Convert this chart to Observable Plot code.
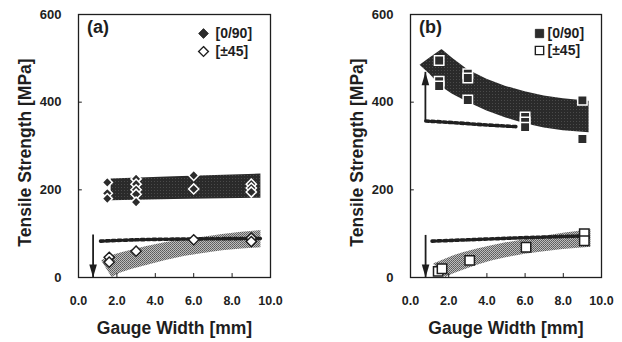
<!DOCTYPE html>
<html>
<head>
<meta charset="utf-8">
<script src="https://cdn.jsdelivr.net/npm/d3@7"></script>
<script src="https://cdn.jsdelivr.net/npm/@observablehq/plot@0.6"></script>
<style>
  body { margin: 0; background: white; }
  #wrap { display: flex; width: 622px; height: 342px; }
</style>
</head>
<body>
<div id="wrap"></div>
<script>
// ---------- shared ----------
const xTicks = [0, 2, 4, 6, 8, 10];
const yTicks = [0, 200, 400, 600];
const seriesNames = ["[0/90]", "[±45]"];
const xTitle = "Gauge Width [mm]";
const yTitle = "Tensile Strength [MPa]";

// ---------- panel (a) ----------
const a090X = [1.5, 1.5, 1.5, 3, 3, 3, 3, 3, 6, 6, 9, 9, 9];
const a090Y = [217, 192, 180, 225, 213, 200, 190, 172, 233, 202, 213, 204, 195];
const a45X = [1.6, 1.6, 3, 6, 9, 9];
const a45Y = [46, 35, 60, 86, 90, 82];
const aDarkX = [1.7, 5, 9.5];
const aDarkLo = [175, 178, 181];
const aDarkHi = [225, 230, 236];
const aLightX = [1.2, 1.75, 2.2, 2.8, 3.5, 4.5, 5.5, 6.5, 7.5, 8.5, 9.5];
const aLightLo = [38, 0, 10, 19, 27, 38, 48, 55, 61, 65, 68];
const aLightHi = [38, 50, 56, 63, 70, 79, 86, 92, 98, 103, 107];
const aDotX = [1.15, 3, 6, 9.5];
const aDotY = [83, 86, 88, 89];
const aArrowX = [0.76];
const aArrowFrom = [97];
const aArrowTo = [0];

// ---------- panel (b) ----------
const b090X = [1.5, 1.5, 1.5, 3, 3, 3, 6, 6, 6, 9, 9];
const b090Y = [495, 448, 437, 465, 455, 405, 366, 355, 343, 404, 316];
const b45X = [1.45, 1.65, 3.1, 6.05, 9.1, 9.1];
const b45Y = [14, 20, 39, 69, 100, 84];
const bDarkX = [0.5, 1.0, 1.65, 2.2, 3.0, 4.0, 5.0, 6.0, 7.0, 8.0, 9.35];
const bDarkLo = [484, 464, 434, 418, 400, 380, 364, 351, 341, 335, 330];
const bDarkHi = [484, 500, 520, 500, 474, 452, 436, 424, 414, 408, 402];
const bLightX = [1.2, 1.85, 2.3, 2.8, 3.5, 4.2, 5.0, 6.0, 7.0, 8.0, 9.45];
const bLightLo = [31, 0, 9, 17, 28, 37, 45, 53, 59, 64, 69];
const bLightHi = [31, 42, 50, 57, 65, 72, 79, 86, 94, 101, 109];
const bDotLowX = [1.13, 3, 5.4, 9.25];
const bDotLowY = [83, 86, 90, 95];
const bDotHighX = [0.8, 2, 4, 5.6];
const bDotHighY = [357, 354, 348, 344];
const bArrowX = [0.79, 0.78];
const bArrowFrom = [96, 357];
const bArrowTo = [0, 468];

// ---------- helpers ----------
const pts = (xs, ys) => xs.map((x, i) => ({x, y: ys[i]}));
const band = (xs, lo, hi) => xs.map((x, i) => ({x, lo: lo[i], hi: hi[i]}));
const arrows = (xs, from, to) => xs.map((x, i) => ({x, from: from[i], to: to[i]}));

const headDown = {draw(c) { c.moveTo(0, 0); c.lineTo(-3.8, -13); c.lineTo(3.8, -13); c.closePath(); }};
const headUp = {draw(c) { c.moveTo(0, 0); c.lineTo(-3.8, 13); c.lineTo(3.8, 13); c.closePath(); }};

const FONT = "'Liberation Sans', Arial, Helvetica, sans-serif";
const INK = "#1e1e1e";

function panel(opts) {
  const {id, label, mLeft, mRight, filled, open, dark, light, dotted, arr, sym, r, legendSymDx, legendTextDx, legendR, legendDy} = opts;
  const marks = [
    Plot.areaY(dark, {x: "x", y1: "lo", y2: "hi", fill: `url(#dark-${id})`, curve: "linear"}),
    Plot.areaY(light, {x: "x", y1: "lo", y2: "hi", fill: `url(#light-${id})`, curve: "linear"}),
    ...dotted.map(d => Plot.line(d, {x: "x", y: "y", stroke: "#202020", strokeWidth: 3.6, strokeDasharray: "3.2,2.6", curve: "monotone-x"})),
    Plot.ruleX(arr, {x: "x", y1: "from", y2: "to", stroke: INK, strokeWidth: 1.8}),
    Plot.dot(arr, {x: "x", y: "to", symbol: d => d.to < d.from ? "down" : "up", fill: INK, stroke: "none"}),
    Plot.dot(filled, {x: "x", y: "y", symbol: sym, r, fill: "#2c2c2c", stroke: "white", strokeWidth: 1.5}),
    Plot.dot(open, {x: "x", y: "y", symbol: sym, r, fill: "white", stroke: INK, strokeWidth: 1.5}),
    Plot.frame({stroke: INK, strokeWidth: 1.3}),
    Plot.ruleX(xTicks.slice(1, -1), {x: d => d, y1: 0, y2: 9, stroke: INK, strokeWidth: 1}),
    Plot.ruleY(yTicks.slice(1, -1), {y: d => d, x1: 0, x2: 0.2, stroke: INK, strokeWidth: 1}),
    Plot.axisX({ticks: xTicks, tickFormat: d3.format(".1f"), tickSize: 0, tickPadding: 19, fontSize: 12.5, label: null}),
    Plot.axisY({ticks: yTicks, tickFormat: d => String(d), tickSize: 0, tickPadding: 17, fontSize: 13, label: null}),
    Plot.text([xTitle], {frameAnchor: "bottom", dy: 51, lineAnchor: "middle", textAnchor: "middle", fontSize: 17.5, text: d => d}),
    Plot.text([yTitle], {frameAnchor: "left", dx: -53, dy: 6.5, rotate: -90, lineAnchor: "middle", textAnchor: "middle", fontSize: 17.5, text: d => d}),
    Plot.text([label], {frameAnchor: "top-left", dx: 8.5, dy: 13, lineAnchor: "middle", textAnchor: "start", fontSize: 18, text: d => d}),
    ...seriesNames.flatMap((name, i) => [
      Plot.dot([name], {frameAnchor: "top-right", dx: legendSymDx, dy: legendDy[i], symbol: sym, r: legendR,
        fill: i === 0 ? "#2c2c2c" : "white", stroke: INK, strokeWidth: i === 0 ? 0.8 : 1.4}),
      Plot.text([name], {frameAnchor: "top-right", dx: legendTextDx, dy: legendDy[i], textAnchor: "start", lineAnchor: "middle", fontSize: 14, text: d => d})
    ])
  ];
  const svg = Plot.plot({
    width: 311, height: 342,
    marginLeft: mLeft, marginRight: mRight, marginTop: 14, marginBottom: 65,
    x: {domain: [0, 10]},
    y: {domain: [0, 600]},
    symbol: {domain: ["down", "up"], range: [headDown, headUp]},
    style: {fontFamily: FONT, fontWeight: "bold", color: INK, background: "white", overflow: "visible"},
    marks
  });
  d3.select(svg).insert("defs", ":first-child").html(`
    <pattern id="light-${id}" width="2" height="2" patternUnits="userSpaceOnUse">
      <rect width="2" height="2" fill="#bdbdbd"/>
      <rect x="0" y="0" width="1" height="1" fill="#5a5a5a"/>
      <rect x="1" y="1" width="1" height="1" fill="#6a6a6a"/>
    </pattern>
    <pattern id="dark-${id}" width="3" height="3" patternUnits="userSpaceOnUse">
      <rect width="3" height="3" fill="#2a2a2a"/>
      <rect x="1" y="1" width="1" height="1" fill="#4a4a4a"/>
    </pattern>`);
  return svg;
}

const wrap = document.getElementById("wrap");
wrap.append(panel({
  id: "a", label: "(a)", mLeft: 78, mRight: 41,
  filled: pts(a090X, a090Y), open: pts(a45X, a45Y),
  dark: band(aDarkX, aDarkLo, aDarkHi), light: band(aLightX, aLightLo, aLightHi),
  dotted: [pts(aDotX, aDotY)], arr: arrows(aArrowX, aArrowFrom, aArrowTo),
  sym: "diamond2", r: 4.6, legendR: 4.4, legendSymDx: -67, legendTextDx: -55, legendDy: [19, 37]
}));
wrap.append(panel({
  id: "b", label: "(b)", mLeft: 99, mRight: 21,
  filled: pts(b090X, b090Y), open: pts(b45X, b45Y),
  dark: band(bDarkX, bDarkLo, bDarkHi), light: band(bLightX, bLightLo, bLightHi),
  dotted: [pts(bDotLowX, bDotLowY), pts(bDotHighX, bDotHighY)], arr: arrows(bArrowX, bArrowFrom, bArrowTo),
  sym: "square", r: 5.3, legendR: 4.7, legendSymDx: -62, legendTextDx: -54, legendDy: [19, 36]
}));
</script>
</body>
</html>
